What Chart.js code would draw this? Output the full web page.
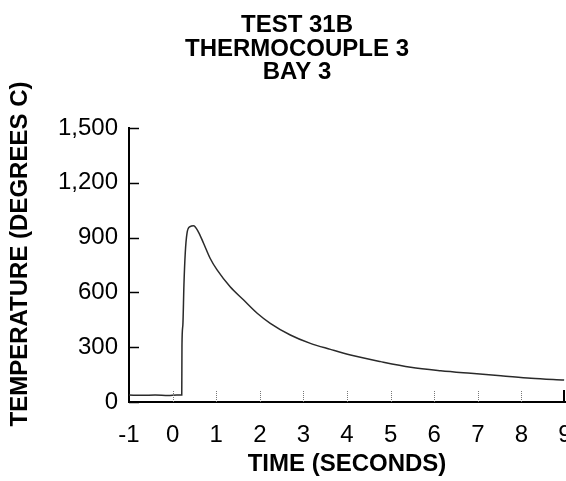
<!DOCTYPE html>
<html>
<head>
<meta charset="utf-8">
<title>Test 31B Thermocouple 3 Bay 3</title>
<script src="https://cdn.jsdelivr.net/npm/chart.js@4.4.1/dist/chart.umd.min.js"></script>
<style>
    html, body { margin: 0; padding: 0; background: #fff; }
    canvas { display: block; }
</style>
</head>
<body>
<canvas id="tempChart" width="566" height="481"></canvas>
<script>
// Data
const timeSec = [-1, -0.7, -0.4, -0.1, 0.1, 0.21, 0.215, 0.235, 0.26, 0.29, 0.33, 0.4, 0.48, 0.59, 0.71, 0.86,
    1.02, 1.32, 1.63, 1.94, 2.24, 2.7, 3.16, 3.62, 4.08, 4.77, 5.46, 6.15, 6.84, 7.53, 8.22, 8.98];
const tempC = [38, 37, 38, 36, 38, 38, 312, 420, 640, 814, 923, 960, 965, 932, 869, 787,
    723, 631, 558, 486, 431, 367, 321, 288, 257, 221, 190, 171, 157, 144, 130, 120];

const xTicks = [-1, 0, 1, 2, 3, 4, 5, 6, 7, 8, 9];
const yTicks = [0, 300, 600, 900, 1200, 1500];
const titleLines = ['TEST 31B', 'THERMOCOUPLE 3', 'BAY 3'];
const yTitle = 'TEMPERATURE (DEGREES C)';

const FONT = "'Liberation Sans', Arial, Helvetica, sans-serif";

// Three line title and the rotated y title, placed like the original
const titleText = {
    id: 'titleText',
    afterDraw(chart) {
        const ctx = chart.ctx;
        ctx.save();
        ctx.font = 'bold 24px ' + FONT;
        ctx.fillStyle = '#000';
        ctx.textAlign = 'center';
        ctx.textBaseline = 'alphabetic';
        const baselines = [32, 55.5, 79];
        titleLines.forEach((line, i) => ctx.fillText(line, 297, baselines[i]));

        ctx.translate(20, 254);
        ctx.rotate(-Math.PI / 2);
        ctx.textBaseline = 'middle';
        ctx.fillText(yTitle, 0, 0);
        ctx.restore();
    }
};

// Inward tick marks: solid on the y axis, dotted on the x axis
const axisMarks = {
    id: 'axisMarks',
    afterDatasetsDraw(chart) {
        const {ctx, chartArea: area, scales: {x, y}} = chart;
        ctx.save();
        ctx.strokeStyle = '#000';
        ctx.lineWidth = 1.5;
        y.ticks.forEach(t => {
            const py = Math.round(y.getPixelForValue(t.value)) + 0.5;
            ctx.beginPath();
            ctx.moveTo(area.left, py);
            ctx.lineTo(area.left + 10, py);
            ctx.stroke();
        });

        x.ticks.forEach((t, i) => {
            if (i === 0) return;
            const last = i === x.ticks.length - 1;
            const px = last ? x.getPixelForValue(t.value) - 1 : Math.round(x.getPixelForValue(t.value)) + 0.5;
            ctx.setLineDash(last ? [] : [1, 1]);
            ctx.strokeStyle = last ? '#000' : '#777';
            ctx.lineWidth = last ? 2 : 1;
            ctx.beginPath();
            ctx.moveTo(px, area.bottom);
            ctx.lineTo(px, area.bottom - 12);
            ctx.stroke();
        });
        ctx.restore();
    }
};

const ctx = document.getElementById('tempChart').getContext('2d');
new Chart(ctx, {
    type: 'line',
    data: {
        datasets: [{
            data: timeSec.map((t, i) => ({x: t, y: tempC[i]})),
            borderColor: '#2a2a2a',
            borderWidth: 1.5,
            pointRadius: 0,
            fill: false,
            cubicInterpolationMode: 'monotone'
        }]
    },
    options: {
        responsive: false,
        animation: false,
        layout: {
            padding: { top: 128, right: 1, bottom: 0, left: 0 }
        },
        plugins: {
            legend: { display: false },
            tooltip: { enabled: false },
            title: { display: false }
        },
        scales: {
            x: {
                type: 'linear',
                min: -1,
                max: 9,
                afterBuildTicks: scale => { scale.ticks = xTicks.map(v => ({value: v})); },
                afterFit: scale => {
                    scale.height = 79;
                    scale.paddingLeft = 0;
                    scale.paddingRight = 0;
                },
                grid: { display: true, drawOnChartArea: false, drawTicks: false },
                border: { display: true, color: '#000', width: 2 },
                ticks: {
                    color: '#000',
                    padding: 19,
                    maxRotation: 0,
                    autoSkip: false,
                    font: { family: FONT, size: 24 }
                },
                title: {
                    display: true,
                    text: 'TIME (SECONDS)',
                    color: '#000',
                    padding: { top: 0, bottom: 2 },
                    font: { family: FONT, size: 24, weight: 'bold' }
                }
            },
            y: {
                min: 0,
                max: 1500,
                afterBuildTicks: scale => { scale.ticks = yTicks.map(v => ({value: v})); },
                afterFit: scale => {
                    scale.width = 129;
                    scale.paddingTop = 0;
                    scale.paddingBottom = 0;
                },
                grid: { display: true, drawOnChartArea: false, drawTicks: false },
                border: { display: true, color: '#000', width: 2 },
                ticks: {
                    color: '#000',
                    padding: 11,
                    autoSkip: false,
                    font: { family: FONT, size: 24 },
                    callback: value => value.toLocaleString('en-US')
                }
            }
        }
    },
    plugins: [axisMarks, titleText]
});
</script>
</body>
</html>
